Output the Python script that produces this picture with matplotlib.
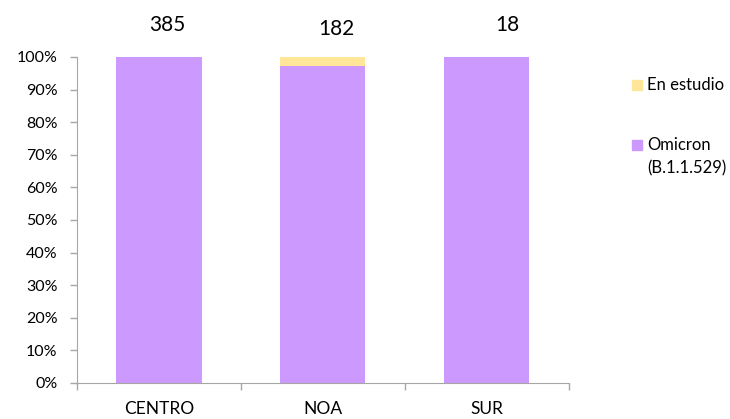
import matplotlib.pyplot as plt
from matplotlib.patches import Rectangle
from matplotlib.ticker import PercentFormatter
import numpy as np

plt.rcParams['font.family'] = ['Lato', 'DejaVu Sans']

regiones = ['CENTRO', 'NOA', 'SUR']
omicron = np.array([385, 177, 18])
en_estudio = np.array([0, 5, 0])
totales = omicron + en_estudio

c_omicron = '#CC99FF'
c_estudio = '#FFE699'
c_eje = '#A6A6A6'

pct_omi = omicron / totales * 100
pct_est = en_estudio / totales * 100

fig = plt.figure(figsize=(7.3, 4.19), dpi=100)
ax = fig.add_axes([0.1055, 0.086, 0.6735, 0.778])

x = np.arange(len(regiones))
ax.bar(x, pct_omi, width=0.52, color=c_omicron)
ax.bar(x, pct_est, width=0.52, bottom=pct_omi, color=c_estudio)

ax.set_xlim(-0.5, 2.5)
ax.set_ylim(0, 100)
ax.set_yticks(np.arange(0, 101, 10))
ax.yaxis.set_major_formatter(PercentFormatter(decimals=0))

# categorias entre marcas, marcas en los limites
ax.set_xticks(x)
ax.set_xticklabels(regiones)
ax.set_xticks(np.arange(-0.5, 3, 1), minor=True)
ax.tick_params(axis='x', which='major', length=0, pad=13, labelsize=12.5)
ax.tick_params(axis='x', which='minor', length=5, color=c_eje, width=1)
ax.tick_params(axis='y', length=5, color=c_eje, width=1, labelsize=11.5, pad=9)

for s in ['top', 'right']:
    ax.spines[s].set_visible(False)
for s in ['left', 'bottom']:
    ax.spines[s].set_color(c_eje)

# totales sobre las barras
desplaz = [8, 14, 21]
for i, t in enumerate(totales):
    ax.annotate(str(t), (x[i], 100), xytext=(desplaz[i], 32 if i != 1 else 28),
                textcoords='offset pixels', ha='center', va='center', fontsize=15)

# leyenda
fig.patches.append(Rectangle((632 / 730, 1 - 90 / 419), 10 / 730, 10 / 419,
                             transform=fig.transFigure, color=c_estudio))
fig.text(647 / 730, 1 - 85 / 419, 'En estudio', fontsize=12, va='center')
fig.patches.append(Rectangle((632 / 730, 1 - 150 / 419), 10 / 730, 10 / 419,
                             transform=fig.transFigure, color=c_omicron))
fig.text(647 / 730, 1 - 145 / 419, 'Omicron', fontsize=12, va='center')
fig.text(647 / 730, 1 - 168 / 419, '(B.1.1.529)', fontsize=12, va='center')

plt.savefig('out.png', dpi=100)
